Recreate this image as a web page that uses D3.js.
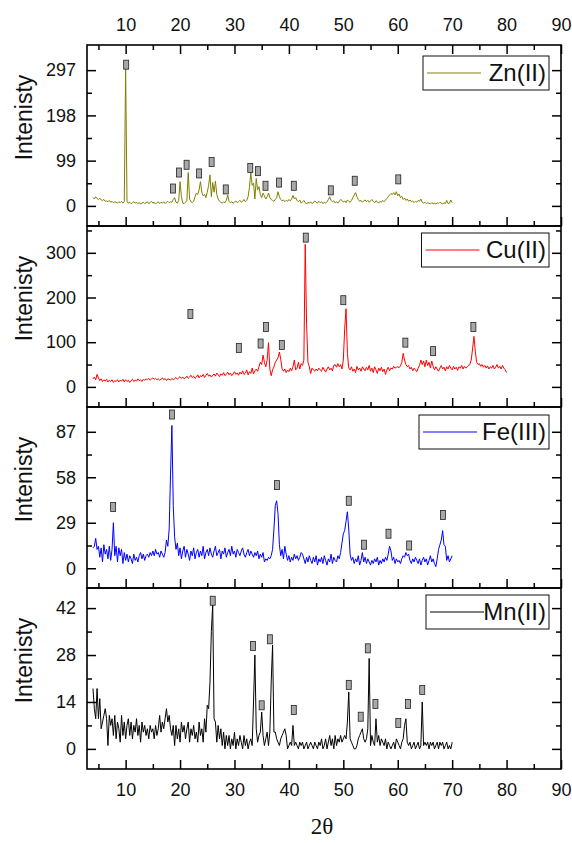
<!DOCTYPE html>
<html>
<head>
<meta charset="utf-8">
<script src="https://cdn.jsdelivr.net/npm/d3@7"></script>
<style>
  body { margin: 0; background: #fff; }
  text { font-family: "Liberation Sans", Arial, sans-serif; }
</style>
</head>
<body>
<div id="vis"></div>
<script>
// scans are recorded on a regular 2θ grid
let xStart = 4, xStep = 0.25;

// Zn(II), 4° .. 70°
let znY = [
  18,15,20,16,14,17,13,12,14,10,11,9,12,8,10,7,9,8,6,9,
  7,10,6,9,301,10,6,8,5,7,9,6,8,5,7,4,6,8,5,7,
  9,5,7,10,6,8,4,7,9,5,8,6,9,5,8,10,7,9,8,14,
  18,8,6,12,53,20,6,5,8,12,73,15,9,7,10,20,28,25,35,53,
  30,22,25,18,30,45,68,20,51,30,54,25,15,10,8,6,9,7,12,24,
  10,7,9,6,8,11,7,9,12,8,10,14,9,12,20,40,73,45,50,15,
  60,35,42,25,18,28,22,15,20,28,18,14,12,10,14,18,31,20,14,11,
  13,9,12,10,14,11,15,23,15,18,12,9,13,6,9,12,7,4,8,6,
  9,5,7,11,8,6,10,7,9,5,8,6,9,14,20,12,9,11,7,9,
  6,10,14,12,8,11,7,13,10,8,12,18,24,29,20,14,10,12,8,11,
  13,9,12,8,11,14,10,7,11,9,6,10,8,12,9,13,16,20,24,27,
  25,29,24,31,22,26,18,21,14,17,12,15,10,13,9,11,7,10,8,12,
  10,15,8,6,8,5,7,6,4,7,5,6,4,7,5,8,6,4,7,5,
  12,5,6,13,7
];

// Cu(II), 4° .. 80°
let cuY = [
  18,22,16,28,20,14,18,12,16,13,17,11,15,12,16,10,14,12,16,11,
  15,13,17,11,16,12,15,10,14,17,12,15,13,18,14,16,12,17,15,18,
  16,19,15,18,20,17,19,16,18,15,17,20,16,19,14,18,17,15,19,16,
  18,21,17,20,23,19,22,18,20,24,19,22,26,21,24,19,22,27,20,25,
  23,28,21,26,30,24,27,22,26,29,24,31,27,23,29,26,32,25,28,33,
  27,31,25,29,34,28,31,26,33,29,36,28,31,38,27,34,30,42,29,36,
  40,35,45,55,50,71,55,45,60,99,40,25,38,45,55,60,65,78,62,40,
  35,40,32,38,34,42,36,45,60,38,42,55,40,52,48,60,319,140,55,45,
  30,42,38,35,40,36,42,38,35,44,38,33,40,45,38,42,36,48,50,44,
  52,45,50,40,60,130,175,75,42,38,45,35,40,32,46,38,42,35,45,40,
  36,44,38,48,35,42,32,45,38,30,42,36,44,34,40,28,38,44,36,42,
  40,46,42,44,45,43,47,55,75,60,50,45,48,40,44,36,42,38,34,42,
  48,60,50,58,45,60,48,55,42,58,46,38,45,40,35,42,48,40,44,36,
  45,40,48,42,38,46,40,44,37,45,42,48,40,46,42,45,48,50,60,85,
  113,80,55,50,52,46,50,44,48,42,47,40,45,42,48,40,44,50,42,46,
  40,48,42,38,32
];

// Fe(III), 4° .. 70°
let feY = [
  13,14,19,12,14,7,13,4,15,9,12,6,14,5,12,29,8,14,4,13,
  8,12,3,10,5,9,4,8,6,3,9,5,7,4,8,10,6,9,5,8,
  9,7,10,8,11,8,12,9,10,7,11,9,7,10,18,14,25,60,91,40,
  20,12,16,8,13,6,11,14,7,12,9,5,11,8,13,6,10,12,7,11,
  8,14,6,10,12,8,13,9,7,11,14,8,10,12,6,11,9,13,7,10,
  12,8,14,9,11,7,12,10,8,11,13,9,7,10,12,8,11,9,7,10,
  8,11,6,9,7,10,4,6,5,7,6,8,12,25,40,43,35,15,8,12,
  6,14,9,5,8,4,7,5,9,6,8,5,7,10,9,6,3,7,4,8,
  5,3,7,4,8,2,6,4,7,3,8,5,2,6,4,9,3,7,5,4,
  8,6,10,16,22,24,30,36,25,9,5,7,3,6,4,8,2,5,10,4,
  7,3,6,4,2,5,3,6,4,7,2,5,3,6,4,7,5,9,14,11,
  5,7,3,6,4,5,3,6,8,7,10,8,9,5,3,6,4,7,5,3,
  6,2,5,7,4,6,2,5,8,4,6,3,1,6,12,15,18,24,15,14,
  5,8,4,6,8
];

// Mn(II), 4° .. 70°
let mnY = [
  18,12,9,18,9,15,6,8,10,12,9,1,10,7,9,4,10,3,8,6,
  2,10,4,8,3,7,9,4,8,3,7,5,9,4,7,2,8,5,7,4,
  6,3,7,5,6,3,7,4,6,10,5,8,6,9,12,8,10,6,4,7,
  1,7,3,6,2,8,5,7,3,6,8,2,6,4,7,3,5,2,8,4,
  6,2,9,5,13,12,20,35,43,9,8,2,7,3,6,1,5,0,4,1,
  4,0,3,1,5,0,3,1,4,2,0,4,1,3,0,2,3,1,14,28,
  6,2,4,5,11,4,1,3,5,1,5,20,31,5,5,3,2,1,3,4,
  5,6,4,0,1,2,1,7,1,2,1,0,2,1,2,0,1,2,0,1,
  2,1,0,2,1,0,2,1,3,0,1,3,0,2,4,1,3,0,4,1,
  3,2,4,2,3,4,3,8,17,3,2,1,0,0,1,3,4,5,6,3,
  2,3,6,27,1,4,2,1,9,2,4,1,3,2,1,3,0,2,1,0,
  1,2,0,3,2,1,0,2,3,7,9,2,1,2,0,1,2,0,1,2,
  0,1,14,1,2,1,2,0,2,1,2,0,1,2,0,2,1,2,0,1,
  2,0,1,0,2
];

// peak markers (2θ, intensity)
let znMarkX = [10.1, 18.7, 19.8, 21.2, 23.5, 25.8, 28.4, 32.9, 34.3, 35.7, 38.2, 40.9, 47.7, 52.1, 60.1];
let znMarkY = [309, 38, 73, 90, 71, 96, 36, 83, 76, 44, 51, 44, 34, 55, 58];
let cuMarkX = [21.9, 30.8, 34.8, 35.8, 38.7, 43.1, 50.0, 61.4, 66.5, 73.9];
let cuMarkY = [163, 87, 97, 134, 94, 334, 194, 99, 80, 134];
let feMarkX = [7.7, 18.5, 37.8, 51.0, 53.8, 58.3, 62.1, 68.3];
let feMarkY = [39, 98, 53, 43, 15, 22, 14.5, 34];
let mnMarkX = [26.0, 33.4, 35.0, 36.5, 40.9, 51.0, 53.2, 54.5, 55.9, 60.1, 61.9, 64.5];
let mnMarkY = [44.2, 30.7, 13, 32.7, 11.6, 19.1, 9.6, 30, 13.4, 7.7, 13.4, 17.6];

// axes
let xDomain = [2.9, 90];
let xTicks = [10, 20, 30, 40, 50, 60, 70, 80, 90];
let xMinor = [5, 15, 25, 35, 45, 55, 65, 75, 85];

let znDomain = [-44, 352], znTicks = [0, 99, 198, 297], znMinor = [49.5, 148.5, 247.5];
let cuDomain = [-45, 360], cuTicks = [0, 100, 200, 300], cuMinor = [50, 150, 250, 350];
let feDomain = [-12.6, 102.8], feTicks = [0, 29, 58, 87], feMinor = [14.5, 43.5, 72.5];
let mnDomain = [-6, 48], mnTicks = [0, 14, 28, 42], mnMinor = [7, 21, 35];

let panels = [
  { name: 'Zn(II)', color: '#808000', y: znY, mx: znMarkX, my: znMarkY, dom: znDomain, ticks: znTicks, minor: znMinor, leg: [423, 56] },
  { name: 'Cu(II)', color: '#ff0000', y: cuY, mx: cuMarkX, my: cuMarkY, dom: cuDomain, ticks: cuTicks, minor: cuMinor, leg: [421.5, 233] },
  { name: 'Fe(III)', color: '#0000ff', y: feY, mx: feMarkX, my: feMarkY, dom: feDomain, ticks: feTicks, minor: feMinor, leg: [419, 415] },
  { name: 'Mn(II)', color: '#000000', y: mnY, mx: mnMarkX, my: mnMarkY, dom: mnDomain, ticks: mnTicks, minor: mnMinor, leg: [426, 595] }
];

let left = 87, right = 561, top0 = 45, panelH = 181;
let major = 9, minorLen = 5;

let svg = d3.select('#vis')
  .append('svg')
  .attr('width', 572)
  .attr('height', 843)
  .style('background-color', 'white');

let x = d3.scaleLinear().domain(xDomain).range([left, right]);

// strip the axis domain line, style ticks and labels
function tidy(g) {
  g.select('.domain').remove();
  g.attr('font-size', 18).attr('font-family', null);
  g.selectAll('line').attr('stroke', '#000').attr('stroke-width', 1.5);
  g.selectAll('text').attr('fill', '#111');
}

panels.forEach((p, i) => {
  let top = top0 + i * panelH, bottom = top + panelH;
  let y = d3.scaleLinear().domain(p.dom).range([bottom, top]);
  let g = svg.append('g');

  // pattern
  let line = d3.line()
    .x((d, j) => x(xStart + j * xStep))
    .y(d => y(d));
  g.append('path')
    .datum(p.y)
    .attr('d', line)
    .attr('fill', 'none')
    .attr('stroke', p.color)
    .attr('stroke-width', 1)
    .attr('stroke-linejoin', 'round');

  // peak markers
  g.selectAll('rect.mark')
    .data(p.mx)
    .join('rect')
    .attr('class', 'mark')
    .attr('x', d => x(d) - 2.5)
    .attr('y', (d, j) => y(p.my[j]) - 4.5)
    .attr('width', 5)
    .attr('height', 9)
    .attr('fill', '#a8a8a8')
    .attr('stroke', '#222')
    .attr('stroke-width', 0.8);

  // left axis
  g.append('g').attr('transform', `translate(${left},0)`)
    .call(d3.axisLeft(y).tickValues(p.ticks).tickSize(-major).tickPadding(11).tickFormat(d3.format('d')))
    .call(tidy);
  g.append('g').attr('transform', `translate(${left},0)`)
    .call(d3.axisLeft(y).tickValues(p.minor).tickSize(-minorLen).tickFormat(''))
    .call(tidy);

  // right axis
  g.append('g').attr('transform', `translate(${right},0)`)
    .call(d3.axisRight(y).tickValues(p.ticks).tickSize(-major).tickFormat(''))
    .call(tidy);
  g.append('g').attr('transform', `translate(${right},0)`)
    .call(d3.axisRight(y).tickValues(p.minor).tickSize(-minorLen).tickFormat(''))
    .call(tidy);

  // bottom axis, labels only under the last panel
  let last = i === panels.length - 1;
  g.append('g').attr('transform', `translate(0,${bottom})`)
    .call(d3.axisBottom(x).tickValues(xTicks).tickSize(-major).tickPadding(14).tickFormat(last ? d3.format('d') : ''))
    .call(tidy);
  g.append('g').attr('transform', `translate(0,${bottom})`)
    .call(d3.axisBottom(x).tickValues(xMinor).tickSize(-minorLen).tickFormat(''))
    .call(tidy);

  // top axis, only on the first panel
  if (i === 0) {
    g.append('g').attr('transform', `translate(0,${top})`)
      .call(d3.axisTop(x).tickValues(xTicks).tickSize(-major).tickPadding(14).tickFormat(d3.format('d')))
      .call(tidy);
    g.append('g').attr('transform', `translate(0,${top})`)
      .call(d3.axisTop(x).tickValues(xMinor).tickSize(-minorLen).tickFormat(''))
      .call(tidy);
  }

  // frame
  g.append('rect')
    .attr('x', left).attr('y', top)
    .attr('width', right - left).attr('height', panelH)
    .attr('fill', 'none')
    .attr('stroke', '#000')
    .attr('stroke-width', 1.6);

  // y title
  g.append('text')
    .attr('transform', `translate(32,${top + 72.5}) rotate(-90)`)
    .attr('text-anchor', 'middle')
    .attr('font-size', 23)
    .attr('fill', '#111')
    .text('Intenisty');

  // legend
  let lx = p.leg[0], ly = p.leg[1];
  g.append('rect')
    .attr('x', lx).attr('y', ly)
    .attr('width', 549 - lx).attr('height', 34)
    .attr('fill', '#fff')
    .attr('stroke', '#111')
    .attr('stroke-width', 1);
  g.append('line')
    .attr('x1', lx + 4).attr('x2', lx + 58)
    .attr('y1', ly + 17).attr('y2', ly + 17)
    .attr('stroke', p.color)
    .attr('stroke-width', 1);
  g.append('text')
    .attr('x', 546).attr('y', ly + 17)
    .attr('dy', '0.35em')
    .attr('text-anchor', 'end')
    .attr('font-size', 24)
    .attr('fill', '#111')
    .text(p.name);
});

// x title
svg.append('text')
  .attr('x', 322)
  .attr('y', 834)
  .attr('text-anchor', 'middle')
  .style('font-family', '"Liberation Serif", "Times New Roman", serif')
  .attr('font-size', 23)
  .attr('fill', '#111')
  .text('2θ');
</script>
</body>
</html>
